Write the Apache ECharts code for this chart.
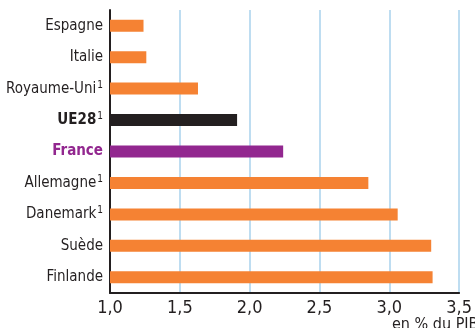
<!DOCTYPE html>
<html>
<head>
<meta charset="utf-8">
<script src="https://cdn.jsdelivr.net/npm/echarts@6/dist/echarts.min.js"></script>
<style>
  html, body { margin: 0; padding: 0; background: #fff; }
  #chart { width: 475px; height: 328px; }
</style>
</head>
<body>
<div id="chart"></div>
<script>
// R&D spending by country, in % of GDP
const countries = ['Espagne', 'Italie', 'Royaume-Uni', 'UE28', 'France', 'Allemagne', 'Danemark', 'Suède', 'Finlande'];
const values = [1.24, 1.26, 1.63, 1.91, 2.24, 2.85, 3.06, 3.30, 3.31];
const footnoted = ['Royaume-Uni', 'UE28', 'Allemagne', 'Danemark'];
const xTicks = [1.0, 1.5, 2.0, 2.5, 3.0, 3.5];

const ORANGE = '#f58233';
const BLACK = '#231f20';
const PURPLE = '#92278f';
const FONT = '"Liberation Sans Narrow", "DejaVu Sans Condensed", "Roboto", sans-serif';

function barColor(name) {
  if (name === 'UE28') return BLACK;
  if (name === 'France') return PURPLE;
  return ORANGE;
}

function labelStyle(name) {
  if (name === 'UE28') return 'ue';
  if (name === 'France') return 'fr';
  return 'n';
}

const chart = echarts.init(document.getElementById('chart'), null, { renderer: 'canvas' });

chart.setOption({
  animation: false,
  grid: { left: 110, right: 10, top: 10, bottom: 35, containLabel: false },
  xAxis: {
    type: 'value',
    min: xTicks[0],
    max: xTicks[xTicks.length - 1],
    interval: 0.5,
    axisLine: { show: true, lineStyle: { color: BLACK, width: 2 } },
    axisTick: { show: false },
    axisLabel: {
      margin: 6,
      fontFamily: FONT,
      fontSize: 18,
      color: '#231f20',
      formatter: v => v.toFixed(1).replace('.', ','),
      showMinLabel: true,
      showMaxLabel: true
    },
    splitLine: { show: true, lineStyle: { color: '#a9d2ec', width: 1.5 } }
  },
  yAxis: {
    type: 'category',
    inverse: true,
    data: countries,
    axisLine: { show: true, lineStyle: { color: BLACK, width: 2 } },
    axisTick: { show: false },
    axisLabel: {
      margin: 7,
      formatter: name => {
        const s = labelStyle(name);
        return '{' + s + '|' + name + '}' + (footnoted.includes(name) ? '{sup|1}' : '');
      },
      rich: {
        n: { fontFamily: FONT, fontSize: 15, color: '#231f20' },
        ue: { fontFamily: FONT, fontSize: 15, fontWeight: 'bold', color: '#231f20' },
        fr: { fontFamily: FONT, fontSize: 15, fontWeight: 'bold', color: PURPLE },
        sup: { fontFamily: FONT, fontSize: 10, color: '#231f20', verticalAlign: 'top', padding: [0, 0, 7, 1] }
      }
    }
  },
  series: [{
    type: 'bar',
    data: values.map((v, i) => ({ value: v, itemStyle: { color: barColor(countries[i]) } })),
    barWidth: 12,
    silent: true
  }],
  graphic: [{
    type: 'text',
    left: 392,
    top: 317,
    style: { text: 'en % du PIB', fontFamily: FONT, fontSize: 16, fill: '#231f20' }
  }]
});
</script>
</body>
</html>
